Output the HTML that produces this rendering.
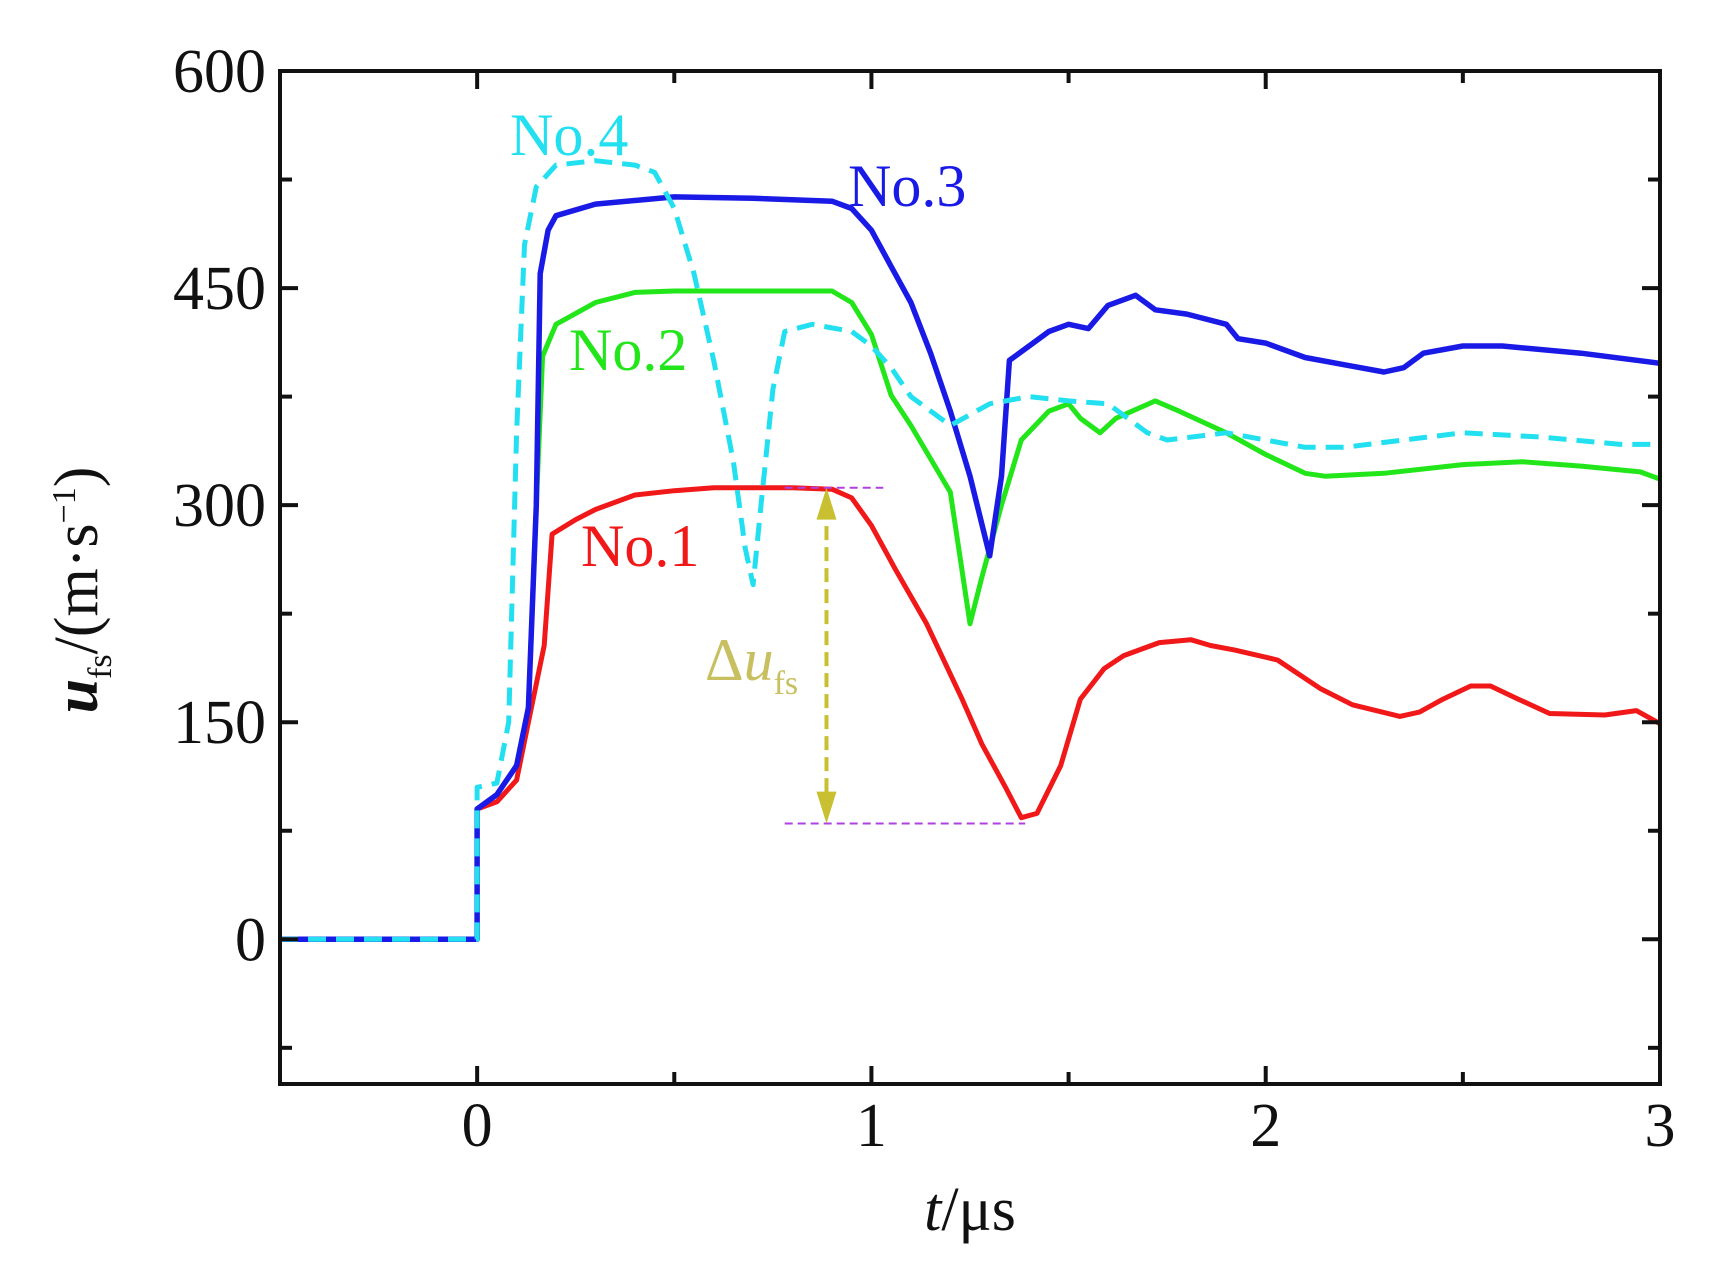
<!DOCTYPE html>
<html><head><meta charset="utf-8"><style>
body{margin:0;background:#fff}
svg{display:block;font-family:"Liberation Serif",serif}
</style></head><body>
<svg id="chart" width="1713" height="1269" viewBox="0 0 1713 1269">
<g id="series"></g>
<g id="axes"></g>
</svg>
<script>
const xTicks=[0,1,2,3];
const yTicks=[0,150,300,450,600];
const t1=[-0.5,0,0,0.05,0.1,0.13,0.17,0.19,0.25,0.3,0.4,0.5,0.6,0.8,0.9,0.95,1.0,1.06,1.14,1.23,1.28,1.34,1.38,1.42,1.48,1.53,1.59,1.64,1.73,1.81,1.86,1.92,2.03,2.14,2.22,2.34,2.39,2.45,2.52,2.57,2.64,2.72,2.86,2.94,3.0];
const v1=[0,0,90,95,110,150,203,280,290,297,307,310,312,312,311,305,286,256,218,166,135,105,84,87,120,166,187,196,205,207,203,200,193,173,162,154,157,166,175,175,166,156,155,158,149];
const t2=[-0.5,0,0,0.05,0.1,0.13,0.15,0.166,0.2,0.3,0.4,0.5,0.9,0.95,1.0,1.05,1.1,1.2,1.25,1.28,1.33,1.38,1.45,1.5,1.53,1.58,1.62,1.72,1.78,1.9,2.0,2.1,2.15,2.3,2.5,2.65,2.8,2.95,3.0];
const v2=[0,0,90,100,120,160,300,403,425,440,447,448,448,440,418,376,355,309,218,250,300,345,365,370,360,350,360,372,365,350,335,322,320,322,328,330,327,323,318];
const t3=[-0.5,0,0,0.05,0.1,0.13,0.15,0.16,0.18,0.2,0.3,0.5,0.7,0.9,0.95,1.0,1.05,1.1,1.15,1.2,1.25,1.3,1.33,1.35,1.4,1.45,1.5,1.55,1.6,1.67,1.72,1.8,1.9,1.93,2.0,2.1,2.2,2.3,2.35,2.4,2.5,2.6,2.8,3.0];
const v3=[0,0,90,100,120,160,300,460,490,500,508,513,512,510,505,490,465,440,405,365,320,265,320,400,410,420,425,422,438,445,435,432,425,415,412,402,397,392,395,405,410,410,405,398];
const t4=[-0.5,0,0,0.05,0.08,0.1,0.12,0.15,0.2,0.3,0.4,0.45,0.5,0.55,0.6,0.65,0.68,0.7,0.72,0.75,0.78,0.85,0.95,1.0,1.05,1.1,1.2,1.3,1.4,1.5,1.6,1.7,1.75,1.9,2.0,2.1,2.2,2.35,2.5,2.7,2.9,3.0];
const v4=[0,0,105,108,150,350,480,520,535,538,535,530,505,460,400,330,270,245,300,380,420,425,420,410,395,375,355,370,375,372,370,350,345,350,345,340,340,345,350,347,342,342];

const NS="http://www.w3.org/2000/svg";
const X0=280,X1=1660,Y0=1084,Y1=71,xmin=-0.5,xmax=3,ymin=-100,ymax=600;
const xs=t=>X0+(t-xmin)/(xmax-xmin)*(X1-X0);
const ys=v=>Y0-(v-ymin)/(ymax-ymin)*(Y0-Y1);
const sg=document.getElementById('series'),ag=document.getElementById('axes');
function mk(tag,at,parent){const e=document.createElementNS(NS,tag);for(const k in at)e.setAttribute(k,at[k]);parent.appendChild(e);return e;}
function path(ts,vs){return ts.map((t,i)=>(i?'L':'M')+xs(t).toFixed(1)+','+ys(vs[i]).toFixed(1)).join(' ');}

let p;
p=mk('path',{d:path(t1,v1),fill:'none',stroke:'#f01818','stroke-width':5,'stroke-linejoin':'round'},sg);


p=mk('path',{d:path(t2,v2),fill:'none',stroke:'#22e61a','stroke-width':5,'stroke-linejoin':'round'},sg);


p=mk('path',{d:path(t3,v3),fill:'none',stroke:'#1a1ae6','stroke-width':5.5,'stroke-linejoin':'round'},sg);


p=mk('path',{d:path(t4,v4),fill:'none',stroke:'#22e0f0','stroke-width':5,'stroke-dasharray':'18 10','stroke-linejoin':'round'},sg);



p=mk('line',{x1:xs(0.78),x2:xs(1.03),y1:ys(312),y2:ys(312),stroke:'#b040e0','stroke-width':2,'stroke-dasharray':'8 5'},sg);


p=mk('line',{x1:xs(0.78),x2:xs(1.39),y1:ys(80),y2:ys(80),stroke:'#b040e0','stroke-width':2,'stroke-dasharray':'8 5'},sg);


const ax=xs(0.886);
p=mk('line',{x1:ax,x2:ax,y1:ys(300),y2:ys(92),stroke:'#c8c030','stroke-width':4,'stroke-dasharray':'14 7'},sg);


p=mk('polygon',{points:`${ax},${ys(312)} ${ax-10},${ys(290)} ${ax+10},${ys(290)}`,fill:'#c8c030'},sg);


p=mk('polygon',{points:`${ax},${ys(80)} ${ax-10},${ys(102)} ${ax+10},${ys(102)}`,fill:'#c8c030'},sg);



p=mk('rect',{x:X0,y:Y1,width:X1-X0,height:Y0-Y1,fill:'none',stroke:'#111','stroke-width':4},ag);


for(let t=-0.5;t<=3.001;t+=0.5){const x=xs(t);const L=(Math.abs(t-Math.round(t))<0.01)?18:12;
 mk('line',{x1:x,x2:x,y1:Y0,y2:Y0-L,stroke:'#111','stroke-width':4},ag);
 mk('line',{x1:x,x2:x,y1:Y1,y2:Y1+L,stroke:'#111','stroke-width':4},ag);}
for(let v=-75;v<=600;v+=75){const y=ys(v);const L=(v%150===0)?18:12;
 mk('line',{x1:X0,x2:X0+L,y1:y,y2:y,stroke:'#111','stroke-width':4},ag);
 mk('line',{x1:X1,x2:X1-L,y1:y,y2:y,stroke:'#111','stroke-width':4},ag);}
xTicks.forEach(t=>{const e=mk('text',{x:xs(t),y:1146,'font-size':62,'text-anchor':'middle',fill:'#111'},ag);e.textContent=t;
 
 });
yTicks.forEach(v=>{const e=mk('text',{x:266,y:ys(v)+21,'font-size':62,'text-anchor':'end',fill:'#111'},ag);e.textContent=v;
 
 });
</script>
<svg style="position:absolute;left:0;top:0" width="1713" height="1269">
<g font-family="Liberation Serif, serif">
<text x="510" y="155" font-size="60" fill="#22e0f0">No.4</text>
<text x="848" y="206" font-size="60" fill="#1a1ae6">No.3</text>
<text x="569" y="370" font-size="60" fill="#22e61a">No.2</text>
<text x="581" y="566" font-size="60" fill="#f01818">No.1</text>
<text x="705" y="680" font-size="60" fill="#c8c060">Δ<tspan font-style="italic">u</tspan><tspan font-size="34" dy="14">fs</tspan></text>
<text x="970" y="1230" font-size="62" text-anchor="middle" fill="#111"><tspan font-style="italic">t</tspan>/μs</text>
<text transform="translate(97,590) rotate(-90)" font-size="62" text-anchor="middle" fill="#111"><tspan font-style="italic" font-weight="bold">u</tspan><tspan font-size="34" dy="14">fs</tspan><tspan dy="-14">/(m·s</tspan><tspan font-size="34" dy="-22">−1</tspan><tspan dy="22">)</tspan></text>
</g></svg>
</body></html>
